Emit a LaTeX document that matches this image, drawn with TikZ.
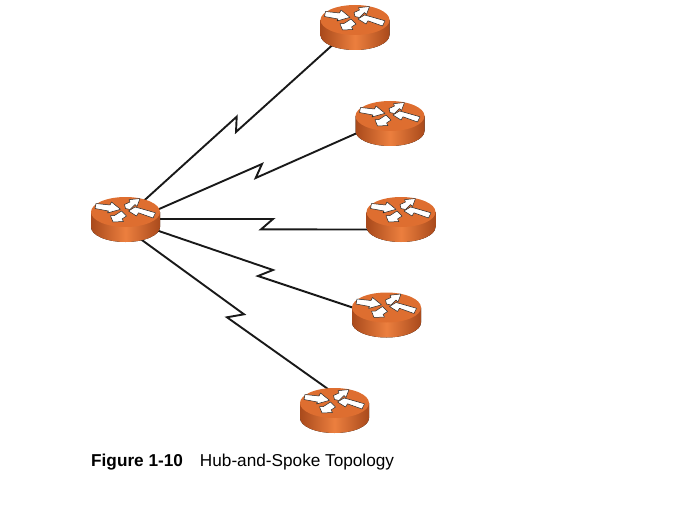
\documentclass[tikz,border=0pt]{standalone}
\usepackage{fontspec}
\setmainfont{Liberation Sans}
\usetikzlibrary{calc}
\definecolor{rtop}{HTML}{DE6E30}
\definecolor{rdark}{HTML}{A94A1C}
\definecolor{rmid}{HTML}{EC7F3E}
\tikzset{
  routerbox/.style={minimum width=69pt,minimum height=45pt,inner sep=0pt,outer sep=0pt},
  wan/.style={draw=black!90,line width=1.9pt,line join=miter},
  arrowfill/.style={fill=white,draw=black!85,line width=0.5pt,line join=round},
}
\newcommand{\routerat}[1]{%
  \begin{scope}[shift={(#1)}]
    \fill[left color=rdark,right color=rdark,middle color=rmid]
      (-34.5,0) -- (-34.5,15) arc[start angle=180,end angle=360,x radius=34.5,y radius=-15] -- (34.5,0) -- cycle;
    \fill[rtop] (0,0) ellipse[x radius=34.5,y radius=15];
    \path[arrowfill] (-29.5,-8.5) -- (-30.5,-3.5) -- (-17,-1) -- (-18,1) -- (-5,-2.7) -- (-14,-10) -- (-15.5,-7) -- cycle;
    \path[arrowfill] (-1,-7.5) -- (4.5,-10) -- (3.5,-12.3) -- (14.5,-13.5) -- (11.5,-5.5) -- (9.5,-7.5) -- (4.5,-2.5) -- (0,-3.5) -- cycle;
    \path[arrowfill] (30,0.8) -- (27.5,6) -- (13,0.8) -- (11,4) -- (3,-1) -- (9.5,-5) -- (15,-3.5) -- cycle;
    \path[arrowfill] (-4,-1) -- (1,4) -- (-3.5,7) -- (-2,9.5) -- (-12.5,10) -- (-15,3.7) -- (-11,3.5) -- cycle;
  \end{scope}}
\begin{document}
\begin{tikzpicture}[x=1pt,y=-1pt]
\useasboundingbox (0,0) rectangle (688,508);
\node[routerbox] (hub) at (125.5,219.5) {};
\node[routerbox] (r1) at (355,27.5) {};
\node[routerbox] (r2) at (390,123.5) {};
\node[routerbox] (r3) at (401,219.5) {};
\node[routerbox] (r4) at (386.5,315) {};
\node[routerbox] (r5) at (334.5,410.5) {};
\draw[wan] ($(hub.center)+(11.5,-12.5)$) -- (236.7,116.7) -- (236,132) -- ($(r1.center)+(-17,12.5)$);
\draw[wan] ($(hub.center)+(24.5,-6.5)$) -- (262,164) -- (255.7,178) -- ($(r2.center)+(-25,6)$);
\draw[wan] ($(hub.center)+(24.5,-0.5)$) -- (273,219) -- (261,229.4) -- ($(r3.center)+(-26,10)$);
\draw[wan] ($(hub.center)+(24.5,8.5)$) -- (273,270) -- (258,276) -- ($(r4.center)+(-26.5,-5)$);
\draw[wan] ($(hub.center)+(9.5,15.5)$) -- (244,314.3) -- (227,317.3) -- ($(r5.center)+(0.5,-16.5)$);
\routerat{125.5,212}
\routerat{355,20}
\routerat{390,116}
\routerat{401,212}
\routerat{386.5,307.5}
\routerat{334.5,403}
\node[anchor=base west,inner sep=0pt,font=\fontsize{17.2}{20}\selectfont] (cap) at (91,466)
  {\textbf{Figure 1-10}\hspace{17pt}Hub-and-Spoke Topology};
\end{tikzpicture}
\end{document}
